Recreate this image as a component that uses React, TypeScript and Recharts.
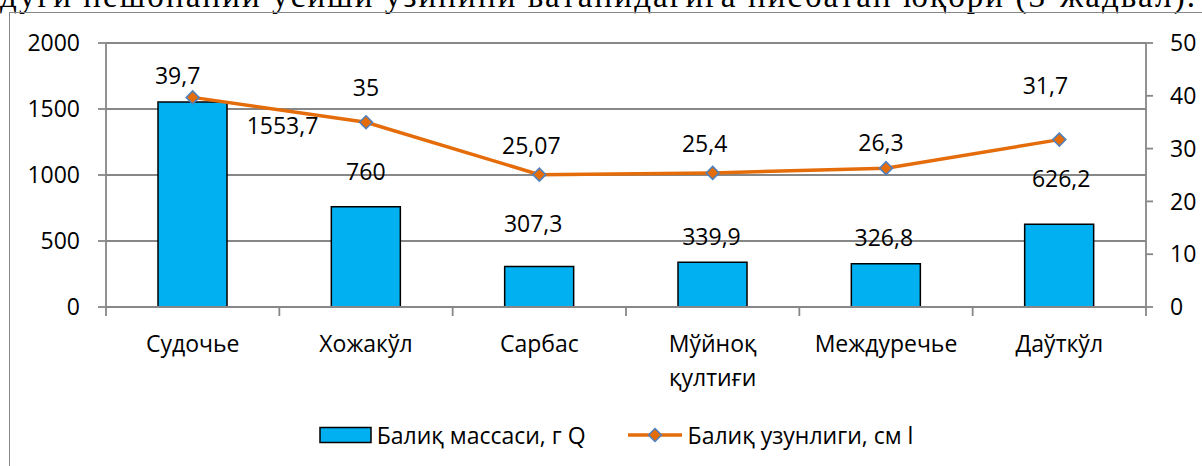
import React from 'react'
import {
  ComposedChart,
  Bar,
  Line,
  XAxis,
  YAxis,
  CartesianGrid,
  Legend,
  LabelList,
} from 'recharts'

// chart values
const categories = ['Судочье', 'Хожакўл', 'Сарбас', 'Мўйноқ қултиғи', 'Междуречье', 'Даўткўл']
const massValues = [1553.7, 760, 307.3, 339.9, 326.8, 626.2]
const lengthValues = [39.7, 35, 25.07, 25.4, 26.3, 31.7]
const massTicks = [0, 500, 1000, 1500, 2000]
const lengthTicks = [0, 10, 20, 30, 40, 50]

const massName = 'Балиқ массаси, г Q'
const lengthName = 'Балиқ узунлиги, см l'
const headerText = 'дуги нешонаний усиши узинини ватанидагига нисбатан юқори (3-жадвал).'

// manual nudges of the data labels, as in the source document (dx, dy)
const barLabelNudge = [[90, 23], [0, -36], [-6, -43], [-1, -26], [-2, -27], [2, -46]]
const lineLabelNudge = [[-15, -22], [0, -35], [-8, -30], [-8, -30], [-5, -26], [-14, -55]]

const W = 1202
const H = 466
const PLOT_LEFT = 106
const PLOT_RIGHT = 1146
const PLOT_TOP = 43
const PLOT_BOTTOM = 307
const BAND = (PLOT_RIGHT - PLOT_LEFT) / categories.length

const FONT = '"Open Sans", "Noto Sans", sans-serif'
const GRAY = '#878787'
const ORANGE = '#E46C0A'
const BLUE = '#00B0F0'
const MARKER_EDGE = '#4F81BD'

const data = categories.map((name, i) => ({
  name,
  mass: massValues[i],
  length: lengthValues[i],
}))

const fmt = (v: number | string) => String(v).replace('.', ',')

const XTick = (props: any) => {
  const { x, index, payload } = props
  const lines = String(payload.value).split(' ')
  const last = index === categories.length - 1
  return (
    <g>
      <line x1={x - BAND / 2} x2={x - BAND / 2} y1={PLOT_BOTTOM} y2={PLOT_BOTTOM + 9} stroke={GRAY} strokeWidth={1.8} />
      {last && (
        <line x1={x + BAND / 2} x2={x + BAND / 2} y1={PLOT_BOTTOM} y2={PLOT_BOTTOM + 9} stroke={GRAY} strokeWidth={1.8} />
      )}
      {lines.map((t, i) => (
        <text
          key={i}
          x={x}
          y={PLOT_BOTTOM + 36 + i * 34}
          textAnchor='middle'
          dominantBaseline='central'
          fontFamily={FONT}
          fontSize={23}
          fill='#000'
        >
          {t}
        </text>
      ))}
    </g>
  )
}

const Diamond = ({ cx, cy }: { cx: number; cy: number }) => (
  <polygon
    points={`${cx},${cy - 6.5} ${cx + 6.5},${cy} ${cx},${cy + 6.5} ${cx - 6.5},${cy}`}
    fill={ORANGE}
    stroke={MARKER_EDGE}
    strokeWidth={1.5}
  />
)

const makeLabel = (nudge: number[][]) => (props: any) => {
  const vb = props.viewBox || props
  const x = (vb.x ?? props.x) + (vb.width || 0) / 2
  const y = vb.y ?? props.y
  const [dx, dy] = nudge[props.index] || [0, 0]
  return (
    <text
      x={x + dx}
      y={y + dy}
      textAnchor='middle'
      dominantBaseline='central'
      fontFamily={FONT}
      fontSize={23}
      fill='#000'
    >
      {fmt(props.value)}
    </text>
  )
}

const LegendContent = () => (
  <div
    style={{
      display: 'flex',
      justifyContent: 'center',
      alignItems: 'center',
      fontFamily: FONT,
      fontSize: 23,
      color: '#000',
      whiteSpace: 'nowrap',
    }}
  >
    <svg width={54} height={18} style={{ marginRight: 4 }}>
      <rect x={1} y={1.5} width={51} height={15} fill={BLUE} stroke='#000' strokeWidth={1.5} />
    </svg>
    <span style={{ marginRight: 42 }}>{massName}</span>
    <svg width={56} height={18} style={{ marginRight: 4 }}>
      <line x1={0} x2={54} y1={9} y2={9} stroke={ORANGE} strokeWidth={3.5} />
      <Diamond cx={27} cy={9} />
    </svg>
    <span>{lengthName}</span>
  </div>
)

export default function App() {
  return (
    <div
      style={{
        position: 'absolute',
        left: 0,
        top: 0,
        width: W,
        height: H,
        overflow: 'hidden',
        background: '#fff',
      }}
    >
      {/* clipped line of document text above the chart */}
      <svg width={W} height={14} style={{ position: 'absolute', left: 0, top: 0 }}>
        <text
          x={0}
          y={7}
          fontFamily='"Liberation Serif", "DejaVu Serif", serif'
          fontSize={33}
          textLength={1195}
          lengthAdjust='spacing'
          fill='#000'
        >
          {headerText}
        </text>
      </svg>
      {/* chart frame */}
      <div
        style={{
          position: 'absolute',
          left: 9,
          top: 12,
          width: 1300,
          height: 600,
          borderLeft: `1.5px solid ${GRAY}`,
          borderTop: `1.5px solid ${GRAY}`,
        }}
      />
      <div style={{ position: 'absolute', left: 0, top: 0 }}>
        <ComposedChart
          width={W}
          height={H}
          data={data}
          barCategoryGap='30%'
          margin={{ top: PLOT_TOP, right: 0, bottom: H - PLOT_BOTTOM - 60, left: 0 }}
        >
          <CartesianGrid yAxisId='left' vertical={false} stroke={GRAY} strokeWidth={1.8} />
          <XAxis
            dataKey='name'
            height={60}
            interval={0}
            tickLine={false}
            axisLine={{ stroke: GRAY, strokeWidth: 1.8 }}
            tick={<XTick />}
          />
          <YAxis
            yAxisId='left'
            width={PLOT_LEFT}
            domain={[0, 2000]}
            ticks={massTicks}
            interval={0}
            tickSize={8}
            tickMargin={18}
            axisLine={{ stroke: GRAY, strokeWidth: 1.8 }}
            tickLine={{ stroke: GRAY, strokeWidth: 1.8 }}
            tick={{ fontFamily: FONT, fontSize: 23, fill: '#000' }}
          />
          <YAxis
            yAxisId='right'
            orientation='right'
            width={W - PLOT_RIGHT}
            domain={[0, 50]}
            ticks={lengthTicks}
            interval={0}
            tickSize={7}
            tickMargin={17}
            axisLine={{ stroke: GRAY, strokeWidth: 1.8 }}
            tickLine={{ stroke: GRAY, strokeWidth: 1.8 }}
            tick={{ fontFamily: FONT, fontSize: 23, fill: '#000', textAnchor: 'start' }}
          />
          <Bar
            yAxisId='left'
            dataKey='mass'
            name={massName}
            fill={BLUE}
            stroke='#000'
            strokeWidth={1.5}
            isAnimationActive={false}
          >
            <LabelList dataKey='mass' content={makeLabel(barLabelNudge)} />
          </Bar>
          <Line
            yAxisId='right'
            dataKey='length'
            name={lengthName}
            stroke={ORANGE}
            strokeWidth={3.5}
            dot={(p: any) => <Diamond key={`d-${p.index}`} cx={p.cx} cy={p.cy} />}
            activeDot={false}
            isAnimationActive={false}
          >
            <LabelList dataKey='length' content={makeLabel(lineLabelNudge)} />
          </Line>
          <Legend
            verticalAlign='middle'
            align='center'
            content={<LegendContent />}
            wrapperStyle={{ top: 419, left: 15, width: W }}
          />
        </ComposedChart>
      </div>
    </div>
  )
}
